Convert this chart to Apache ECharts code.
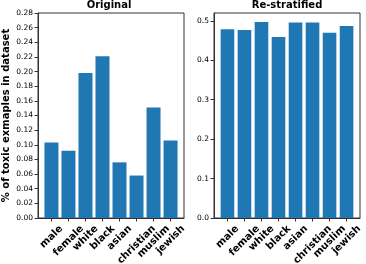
<!DOCTYPE html>
<html><head><meta charset="utf-8">
<script src="https://cdn.jsdelivr.net/npm/echarts@6/dist/echarts.min.js"></script>
<style>html,body{margin:0;padding:0;background:#fff}#c{width:366px;height:264px}</style>
</head><body><div id="c"></div>
<script>
const categories = ['male','female','white','black','asian','christian','muslim','jewish'];
const originalValues = [0.103, 0.092, 0.198, 0.221, 0.076, 0.058, 0.151, 0.106];
const restratifiedValues = [0.479, 0.477, 0.497, 0.459, 0.496, 0.496, 0.470, 0.487];
const leftYTicks = [0,0.02,0.04,0.06,0.08,0.10,0.12,0.14,0.16,0.18,0.20,0.22,0.24,0.26,0.28];
const rightYTicks = [0,0.1,0.2,0.3,0.4,0.5];
const titles = ['Original','Re-stratified'];
const yAxisTitle = '% of toxic exmaples in dataset';

const FONT = '"DejaVu Sans", sans-serif';
const LBL = 10;
const XMIN = -0.79, XMAX = 7.79;
const AX = '#333';
const LABEL_FONT = 'bold ' + LBL + 'px "DejaVu Sans"';
const ctx = document.createElement('canvas').getContext('2d');
ctx.font = LABEL_FONT;
const catIdx = categories.map((c, i) => i);

const mainX = gi => ({
  type: 'value', gridIndex: gi, min: XMIN, max: XMAX,
  splitLine: {show: false},
  axisLine: {show: true, onZero: false, lineStyle: {color: AX, width: 1}},
  axisTick: {show: true, length: 3.5, customValues: catIdx, lineStyle: {color: AX}},
  axisLabel: {show: false}
});
const yAxisBase = (gi, ticks, max, dec) => ({
  type: 'value', gridIndex: gi, min: 0, max: max,
  splitLine: {show: false},
  axisLine: {show: true, onZero: false, lineStyle: {color: AX, width: 1}},
  axisTick: {show: true, length: 3.5, customValues: ticks, lineStyle: {color: AX}},
  axisLabel: {customValues: ticks, margin: 5, color: '#000', fontFamily: FONT, fontSize: 7.5,
    formatter: v => v.toFixed(dec)}
});
const grids = [
  {left: 34, top: 13, width: 150, height: 205, show: true, borderColor: AX, borderWidth: 1},
  {left: 214, top: 13, width: 146, height: 205, show: true, borderColor: AX, borderWidth: 1}
];
const bw = gi => 0.8 * grids[gi].width / (XMAX - XMIN);
const option = {
  animation: false,
  title: [
    {text: titles[0], left: 109, top: 0, textAlign: 'center', padding: 0,
     textStyle: {fontFamily: FONT, fontWeight: 'bold', fontSize: 10, color: '#000'}},
    {text: titles[1], left: 287, top: 0, textAlign: 'center', padding: 0,
     textStyle: {fontFamily: FONT, fontWeight: 'bold', fontSize: 10, color: '#000'}}
  ],
  grid: grids,
  xAxis: [mainX(0), mainX(1)],
  yAxis: [
    Object.assign(yAxisBase(0, leftYTicks, 0.28, 2), {name: yAxisTitle, nameLocation: 'middle', nameGap: 27,
      nameTextStyle: {fontFamily: FONT, fontWeight: 'bold', fontSize: 10, color: '#000'}}),
    yAxisBase(1, rightYTicks, 0.52, 1)
  ],
  series: [
    {type: 'bar', xAxisIndex: 0, yAxisIndex: 0, data: originalValues.map((v, i) => [i, v]),
     itemStyle: {color: '#1f77b4'}, barWidth: bw(0)},
    {type: 'bar', xAxisIndex: 1, yAxisIndex: 1, data: restratifiedValues.map((v, i) => [i, v]),
     itemStyle: {color: '#1f77b4'}, barWidth: bw(1)}
  ]
};
const chart = echarts.init(document.getElementById('c'), null, {renderer: 'canvas'});
chart.setOption(option);

// category tick labels: rotated 45°, centred under each tick (matplotlib style),
// positioned from the axes' own pixel conversion
const PAD = 5;
const H = LBL * 1.16;
const labels = [];
[0, 1].forEach(gi => {
  const y0 = chart.convertToPixel({yAxisIndex: gi}, 0);
  categories.forEach((c, i) => {
    const x = chart.convertToPixel({xAxisIndex: gi}, i);
    const w = ctx.measureText(c).width;
    labels.push({
      type: 'text', x: x, y: y0 + PAD + (w + H) / (2 * Math.SQRT2), rotation: Math.PI / 4,
      style: {text: c, font: LABEL_FONT, fill: '#000', align: 'center', verticalAlign: 'middle'}
    });
  });
});
chart.setOption({graphic: labels});
</script></body></html>
